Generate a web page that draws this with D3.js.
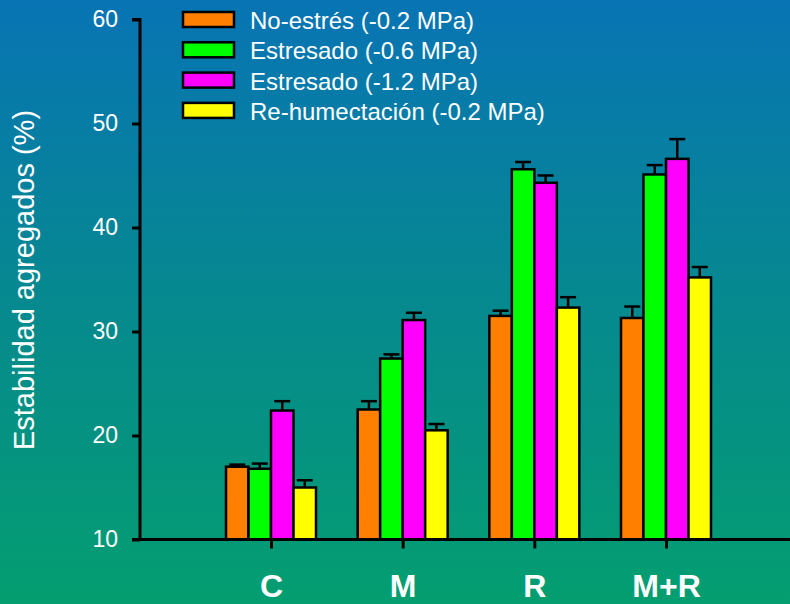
<!DOCTYPE html>
<html>
<head>
<meta charset="utf-8">
<script src="https://cdn.jsdelivr.net/npm/d3@7"></script>
<style>
  html, body { margin: 0; padding: 0; background: #0a8a90; }
  svg { display: block; }
</style>
</head>
<body>
<svg id="chart" width="790" height="604"></svg>
<script>
// Soil aggregate stability by treatment and water regime
const categories = ["C", "M", "R", "M+R"];
const seriesNames = [
  "No-estrés (-0.2 MPa)",
  "Estresado (-0.6 MPa)",
  "Estresado (-1.2 MPa)",
  "Re-humectación (-0.2 MPa)"
];
const seriesColors = ["#ff7f00", "#00ff00", "#ff00ff", "#ffff00"];
const noEstres   = [17.0, 22.5, 31.5, 31.3];
const estres06   = [16.8, 27.4, 45.6, 45.1];
const estres12   = [22.4, 31.1, 44.3, 46.6];
const rehumect   = [15.0, 20.5, 32.3, 35.2];
const errNoEstres = [0.2, 0.8, 0.5, 1.1];
const errEstres06 = [0.5, 0.4, 0.7, 0.9];
const errEstres12 = [0.9, 0.7, 0.7, 1.9];
const errRehumect = [0.7, 0.6, 1.0, 1.0];
const yTicks = [10, 20, 30, 40, 50, 60];
const yLabel = "Estabilidad agregados (%)";

const values = [noEstres, estres06, estres12, rehumect];
const errors = [errNoEstres, errEstres06, errEstres12, errRehumect];

const W = 790, H = 604;
const svg = d3.select("#chart");

// background gradient
const defs = svg.append("defs");
const grad = defs.append("linearGradient").attr("id", "bg")
  .attr("x1", 0).attr("y1", 0).attr("x2", 0).attr("y2", 1);
grad.append("stop").attr("offset", "0%").attr("stop-color", "#0874b4");
grad.append("stop").attr("offset", "50%").attr("stop-color", "#06898f");
grad.append("stop").attr("offset", "100%").attr("stop-color", "#049e70");
svg.append("rect").attr("width", W).attr("height", H).attr("fill", "url(#bg)");

const axisX0 = 140, axisRight = 790;
const y = d3.scaleLinear().domain([10, 60]).range([539.5, 19.5]);
const x = d3.scalePoint().domain(categories).range([271, 666]);
const barW = 22.5;
const sub = d3.scaleBand().domain(d3.range(4)).range([-2 * barW, 2 * barW]).padding(0);

const fontFam = "Arial, 'Liberation Sans', Helvetica, sans-serif";

// bars with upper error bars
const groups = svg.append("g").selectAll("g")
  .data(categories).join("g")
  .attr("transform", c => `translate(${x(c)},0)`);

groups.each(function(c, ci) {
  const g = d3.select(this);
  for (let s = 0; s < 4; s++) {
    const v = values[s][ci], e = errors[s][ci];
    const bx = sub(s);
    const cx = bx + barW / 2;
    g.append("line")
      .attr("x1", cx).attr("x2", cx)
      .attr("y1", y(v)).attr("y2", y(v + e))
      .attr("stroke", "#000").attr("stroke-width", 2.5);
    g.append("line")
      .attr("x1", cx - 8).attr("x2", cx + 8)
      .attr("y1", y(v + e)).attr("y2", y(v + e))
      .attr("stroke", "#000").attr("stroke-width", 2.5);
    g.append("rect")
      .attr("x", bx).attr("y", y(v))
      .attr("width", barW).attr("height", y(10) - y(v))
      .attr("fill", seriesColors[s])
      .attr("stroke", "#000").attr("stroke-width", 2.5);
  }
});

// y axis
const yAxis = svg.append("g").attr("transform", `translate(${axisX0},0)`)
  .call(d3.axisLeft(y).tickValues(yTicks).tickSize(8).tickPadding(14).tickFormat(d3.format("d")));
yAxis.select(".domain").attr("stroke", "#000").attr("stroke-width", 3)
  .attr("d", `M0,${y(10)}V${y(60)}H-8`);
yAxis.selectAll(".tick line").attr("stroke", "#000").attr("stroke-width", 3);
yAxis.selectAll(".tick text").attr("fill", "#fff")
  .style("font-family", fontFam).style("font-size", "23px");

// x axis
svg.append("line")
  .attr("x1", axisX0 - 8).attr("x2", axisRight)
  .attr("y1", y(10)).attr("y2", y(10))
  .attr("stroke", "#000").attr("stroke-width", 3);
const xAxis = svg.append("g").attr("transform", `translate(0,${y(10)})`)
  .call(d3.axisBottom(x).tickSize(9).tickPadding(0));
xAxis.select(".domain").remove();
xAxis.selectAll(".tick line").attr("stroke", "#000").attr("stroke-width", 3);
xAxis.selectAll(".tick text")
  .attr("y", 597 - y(10)).attr("dy", null)
  .attr("fill", "#fff")
  .style("font-family", fontFam).style("font-size", "32px").style("font-weight", "bold");

// y axis title
svg.append("text")
  .attr("transform", `translate(34,280) rotate(-90)`)
  .attr("text-anchor", "middle")
  .attr("fill", "#fff")
  .style("font-family", fontFam).style("font-size", "29px")
  .text(yLabel);

// legend
const legend = svg.append("g").attr("transform", "translate(183,12)");
seriesNames.forEach((name, i) => {
  const row = legend.append("g").attr("transform", `translate(0,${i * 30.3})`);
  row.append("rect").attr("x", 0).attr("y", 0).attr("width", 51).attr("height", 15)
    .attr("fill", seriesColors[i]).attr("stroke", "#000").attr("stroke-width", 2.5);
  row.append("text").attr("x", 67).attr("y", 17)
    .attr("fill", "#fff")
    .style("font-family", fontFam).style("font-size", "24px")
    .text(name);
});
</script>
</body>
</html>
